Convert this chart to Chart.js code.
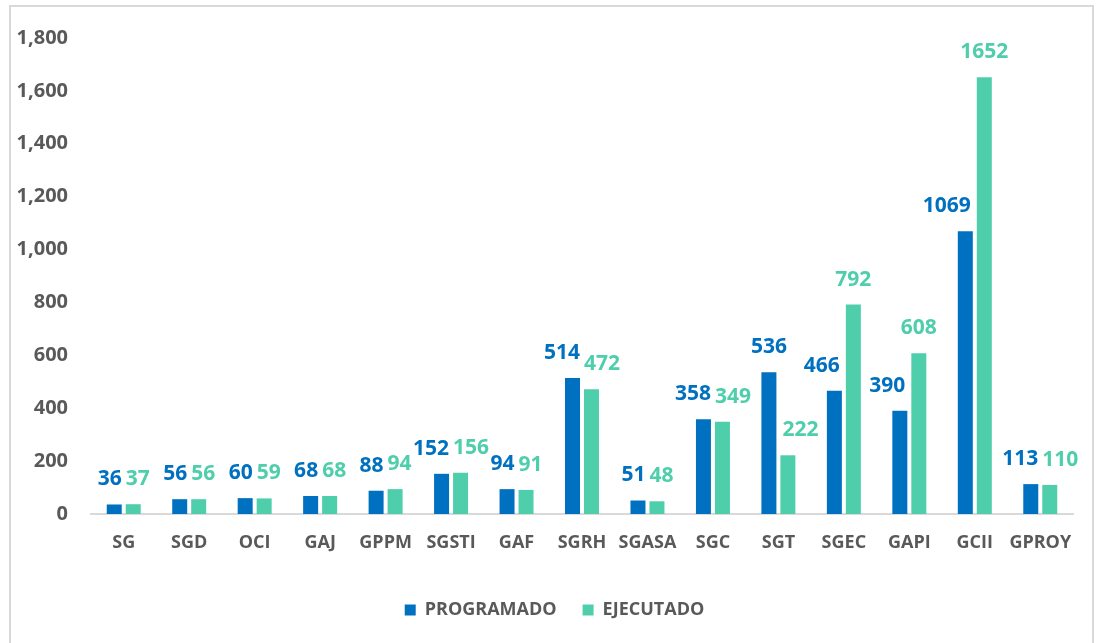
<!DOCTYPE html>
<html>
<head>
<meta charset="utf-8">
<script src="https://cdn.jsdelivr.net/npm/chart.js@4.4.1/dist/chart.umd.min.js"></script>
<style>
  html, body { margin: 0; padding: 0; background: #fff; overflow: hidden; }
  #frame { position: absolute; left: 9px; top: 5px; width: 1081px; height: 700px; border: 2px solid #d9d9d9; }
  #wrap { position: absolute; left: 0; top: 0; width: 1099px; height: 643px; }
</style>
</head>
<body>
<div id="frame"></div>
<div id="wrap"><canvas id="c" width="1099" height="643"></canvas></div>
<script>
// areas and hours
const categories = ['SG','SGD','OCI','GAJ','GPPM','SGSTI','GAF','SGRH','SGASA','SGC','SGT','SGEC','GAPI','GCII','GPROY'];
const programado = [36, 56, 60, 68, 88, 152, 94, 514, 51, 358, 536, 466, 390, 1069, 113];
const ejecutado  = [37, 56, 59, 68, 94, 156, 91, 472, 48, 349, 222, 792, 608, 1652, 110];
const yTicks = [0, 200, 400, 600, 800, 1000, 1200, 1400, 1600, 1800];

const BLUE = '#0070c0', TEAL = '#4fceac', GREY = '#595959';
const FONT = '"Open Sans", sans-serif';

// value labels on top of each bar; pushed apart like Excel does when they collide
const barLabels = {
  id: 'barLabels',
  afterDatasetsDraw(chart) {
    const ctx = chart.ctx;
    ctx.save();
    ctx.font = 'bold 21px ' + FONT;
    ctx.textBaseline = 'middle';
    const a = chart.getDatasetMeta(0).data, b = chart.getDatasetMeta(1).data;
    const da = chart.data.datasets[0], db = chart.data.datasets[1];
    a.forEach((barA, j) => {
      const barB = b[j];
      const ta = String(da.data[j]), tb = String(db.data[j]);
      const wa = ctx.measureText(ta).width, wb = ctx.measureText(tb).width;
      const ya = barA.y - 25, yb = barB.y - 25;
      let la = barA.x - wa / 2, lb = barB.x - wb / 2;
      const mid = (barA.x + barB.x) / 2;
      // both labels on the same line -> split them around the group centre
      if (Math.abs(ya - yb) < 22 && la + wa + 4 > lb) {
        la = Math.min(la, mid - 2 - wa);
        lb = Math.max(lb, mid + 2);
      }
      // label sitting beside a taller neighbour bar -> keep it off that bar
      const left = barB.x - barB.width / 2;
      if (barB.y < ya + 10 && la + wa > left - 6) la = left - 6 - wa;
      const right = barA.x + barA.width / 2;
      if (barA.y < yb + 10 && lb < right + 6) lb = right + 6;
      ctx.fillStyle = da.backgroundColor;
      ctx.fillText(ta, la, ya);
      ctx.fillStyle = db.backgroundColor;
      ctx.fillText(tb, lb, yb);
    });
    ctx.restore();
  }
};

new Chart(document.getElementById('c'), {
  type: 'bar',
  data: {
    labels: categories,
    datasets: [
      {label: 'PROGRAMADO', data: programado, backgroundColor: BLUE},
      {label: 'EJECUTADO', data: ejecutado, backgroundColor: TEAL}
    ]
  },
  options: {
    responsive: false,
    animation: false,
    devicePixelRatio: 1,
    layout: {padding: {top: 38, right: 0, bottom: 14, left: 10}},
    datasets: {bar: {categoryPercentage: 0.58, barPercentage: 0.79}},
    scales: {
      x: {
        grid: {display: false, drawTicks: false},
        border: {display: true, color: '#d9d9d9', width: 2},
        ticks: {color: GREY, font: {family: FONT, size: 18, weight: 'bold'}, padding: 18, maxRotation: 0, autoSkip: false},
        afterFit: s => { s.height = 61; }
      },
      y: {
        min: 0, max: 1800,
        afterBuildTicks: s => { s.ticks = yTicks.map(v => ({value: v})); },
        grid: {display: false, drawTicks: false},
        border: {display: false},
        ticks: {color: GREY, font: {family: FONT, size: 20, weight: 'bold'}, padding: 23,
                callback: v => v.toLocaleString('en-US')},
        afterFit: s => { s.width = 81; }
      },
      // empty right-hand spacer so the legend stays centred on the frame
      yR: {
        position: 'right', min: 0, max: 1800,
        grid: {display: false, drawTicks: false},
        border: {display: false},
        ticks: {display: false},
        afterFit: s => { s.width = 26; }
      }
    },
    plugins: {
      legend: {
        position: 'bottom',
        labels: {color: GREY, font: {family: FONT, size: 18, weight: 'bold'}, boxWidth: 11, boxHeight: 11, padding: 26}
      },
      tooltip: {enabled: false}
    }
  },
  plugins: [barLabels]
});
</script>
</body>
</html>
